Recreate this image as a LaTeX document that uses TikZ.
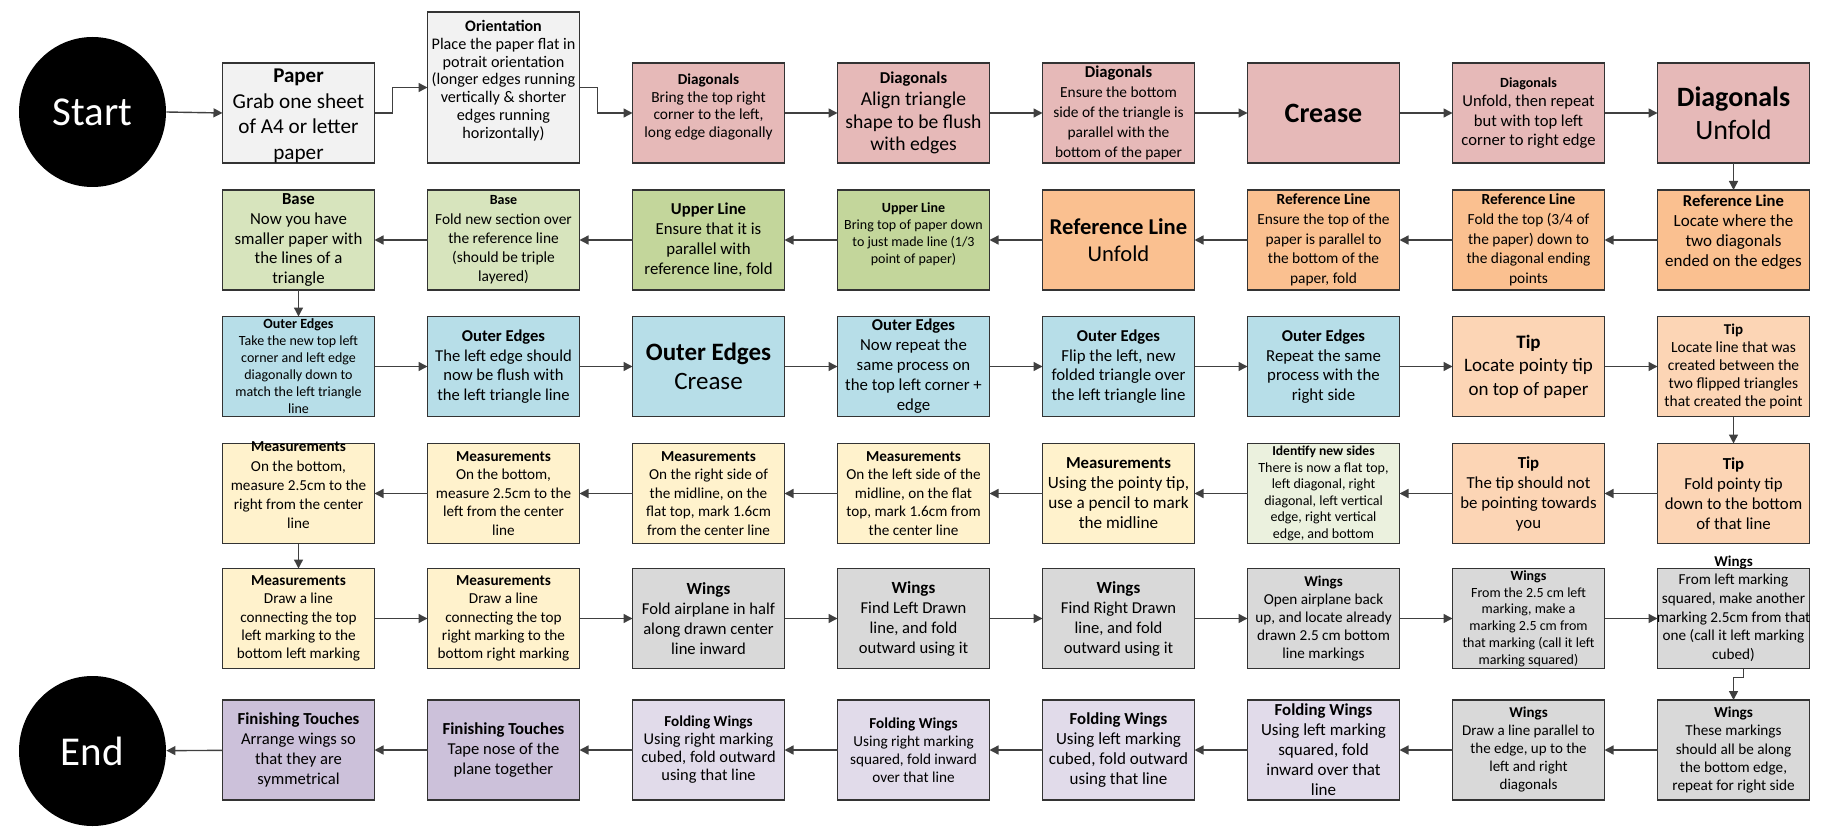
\documentclass[tikz,border=0pt]{standalone}
\usepackage{fontspec}
\setmainfont{Carlito}
\usetikzlibrary{shapes.geometric,arrows.meta,calc}
\definecolor{cpaper}{HTML}{F2F2F2}
\definecolor{cdiag}{HTML}{E6B9B8}
\definecolor{cref}{HTML}{FAC090}
\definecolor{cupper}{HTML}{C3D69B}
\definecolor{cbase}{HTML}{D7E4BD}
\definecolor{couter}{HTML}{B7DEE8}
\definecolor{ctip}{HTML}{FCD5B5}
\definecolor{cident}{HTML}{EBF1DE}
\definecolor{cmeas}{HTML}{FFF2CC}
\definecolor{cwing}{HTML}{D9D9D9}
\definecolor{cfold}{HTML}{E1DBEA}
\definecolor{cfin}{HTML}{CCC1DA}
% #1 raise, #2 title size, #3 body size, #4 baselineskip, #5 title, #6 body
\newcommand\B[6][0pt]{\makebox[0pt]{\raisebox{\dimexpr#1-2.5pt\relax}[0pt][0pt]{\parbox[c]{110pt}{\centering\fontsize{#2}{#4}\selectfont\textbf{#5}\endgraf\fontsize{#3}{#4}\selectfont #6\endgraf}}}}
\tikzset{
  bx/.style={rectangle, draw=black!80, line width=0.65pt, minimum width=76pt, minimum height=50pt, inner sep=0pt, outer sep=0pt, font=\fontsize{10}{12}\selectfont},
  arr/.style={draw=black!75, line width=0.7pt, -{Triangle[length=4.5pt,width=4.5pt]}},
  term/.style={ellipse, fill=black, text=white, minimum width=73.5pt, minimum height=75pt, inner sep=0pt, font=\fontsize{20.5}{24}\selectfont}
}
\begin{document}
\begin{tikzpicture}[x=0.5pt,y=-0.5pt]
\useasboundingbox (0,0) rectangle (1836,834);
% row 1
\node[term] (start) at (92.5,112) {Start};
\node[bx, fill=cpaper] (paper) at (298.5,113) {\B[-1.5pt]{10.5}{10.6}{12.9}{Paper}{Grab one sheet\\of A4 or letter\\paper}};
\node[bx, fill=cpaper, minimum height=75.5pt] (orient) at (503.5,87.5) {\B[3.5pt]{8}{8.1}{8.9}{Orientation}{Place the paper flat in\\potrait orientation\\(longer edges running\\vertically \& shorter\\edges running\\horizontally)}};
\node[bx, fill=cdiag] (d1) at (708.5,113) {\B[3pt]{7.6}{7.7}{8.8}{Diagonals}{Bring the top right\\corner to the left,\\long edge diagonally}};
\node[bx, fill=cdiag] (d2) at (913.5,113) {\B{8.3}{9.8}{11.2}{Diagonals}{Align triangle\\shape to be flush\\with edges}};
\node[bx, fill=cdiag] (d3) at (1118.5,113) {\B{8.3}{7.7}{10}{Diagonals}{Ensure the bottom\\side of the triangle is\\parallel with the\\bottom of the paper}};
\node[bx, fill=cdiag] (crease) at (1323.5,113) {\B{14}{14}{17}{Crease}{}};
\node[bx, fill=cdiag] (d5) at (1528.5,113) {\B{7}{8.3}{9.6}{Diagonals}{Unfold, then repeat\\but with top left\\corner to right edge}};
\node[bx, fill=cdiag] (d6) at (1733.5,113) {\B{14}{14}{16.4}{Diagonals}{Unfold}};
% row 2
\node[bx, fill=cref] (r1) at (1733.5,240) {\B[4pt]{8.3}{8.5}{10}{Reference Line}{Locate where the\\two diagonals\\ended on the edges}};
\node[bx, fill=cref] (r2) at (1528.5,240) {\B{7.7}{7.7}{9.8}{Reference Line}{Fold the top (3/4 of\\the paper) down to\\the diagonal ending\\points}};
\node[bx, fill=cref] (r3) at (1323.5,240) {\B{7.7}{7.7}{9.8}{Reference Line}{Ensure the top of the\\paper is parallel to\\the bottom of the\\paper, fold}};
\node[bx, fill=cref] (r4) at (1118.5,240) {\B{11.3}{11.3}{13.5}{Reference Line}{Unfold}};
\node[bx, fill=cupper] (u1) at (913.5,240) {\B[3pt]{7}{7}{8.5}{Upper Line}{Bring top of paper down\\to just made line (1/3\\point of paper)}};
\node[bx, fill=cupper] (u2) at (708.5,240) {\B{8.3}{8.4}{10}{Upper Line}{Ensure that it is\\parallel with\\reference line, fold}};
\node[bx, fill=cbase] (b1) at (503.5,240) {\B{7}{7.7}{9.6}{Base}{Fold new section over\\the reference line\\(should be triple\\layered)}};
\node[bx, fill=cbase] (b2) at (298.5,240) {\B{8.4}{8.4}{9.8}{Base}{Now you have\\smaller paper with\\the lines of a\\triangle}};
% row 3
\node[bx, fill=couter] (o1) at (298.5,366.5) {\B{7}{7}{8.5}{Outer Edges}{Take the new top left\\corner and left edge\\diagonally down to\\match the left triangle\\line}};
\node[bx, fill=couter] (o2) at (503.5,366.5) {\B{8.3}{8.3}{9.8}{Outer Edges}{The left edge should\\now be flush with\\the left triangle line}};
\node[bx, fill=couter] (o3) at (708.5,366.5) {\B{12.5}{12.5}{14.5}{Outer Edges}{Crease}};
\node[bx, fill=couter] (o4) at (913.5,366.5) {\B{8.3}{8.4}{10}{Outer Edges}{Now repeat the\\same process on\\the top left corner +\\edge}};
\node[bx, fill=couter] (o5) at (1118.5,366.5) {\B{8.3}{8.4}{9.8}{Outer Edges}{Flip the left, new\\folded triangle over\\the left triangle line}};
\node[bx, fill=couter] (o6) at (1323.5,366.5) {\B{8.3}{8.4}{9.8}{Outer Edges}{Repeat the same\\process with the\\right side}};
\node[bx, fill=ctip] (t1) at (1528.5,366.5) {\B{9.5}{9.5}{11.8}{Tip}{Locate pointy tip\\on top of paper}};
\node[bx, fill=ctip] (t2) at (1733.5,366.5) {\B{7.5}{7.75}{9}{Tip}{Locate line that was\\created between the\\two flipped triangles\\that created the point}};
% row 4
\node[bx, fill=ctip] (t3) at (1733.5,493.5) {\B{8.4}{8.4}{10}{Tip}{Fold pointy tip\\down to the bottom\\of that line}};
\node[bx, fill=ctip] (t4) at (1528.5,493.5) {\B{8.4}{8.4}{10}{Tip}{The tip should not\\be pointing towards\\you}};
\node[bx, fill=cident] (id) at (1323.5,493.5) {\B{6.8}{7}{8.3}{Identify new sides}{There is now a flat top,\\left diagonal, right\\diagonal, left vertical\\edge, right vertical\\edge, and bottom}};
\node[bx, fill=cmeas] (m1) at (1118.5,493.5) {\B{8.4}{8.6}{10}{Measurements}{Using the pointy tip,\\use a pencil to mark\\the midline}};
\node[bx, fill=cmeas] (m2) at (913.5,493.5) {\B{7.6}{7.6}{9.2}{Measurements}{On the left side of the\\midline, on the flat\\top, mark 1.6cm from\\the center line}};
\node[bx, fill=cmeas] (m3) at (708.5,493.5) {\B{7.6}{7.6}{9.2}{Measurements}{On the right side of\\the midline, on the\\flat top, mark 1.6cm\\from the center line}};
\node[bx, fill=cmeas] (m4) at (503.5,493.5) {\B{7.6}{7.6}{9.2}{Measurements}{On the bottom,\\measure 2.5cm to the\\left from the center\\line}};
\node[bx, fill=cmeas] (m5) at (298.5,493.5) {\B[4pt]{7.6}{7.6}{9.6}{Measurements}{On the bottom,\\measure 2.5cm to the\\right from the center\\line}};
% row 5
\node[bx, fill=cmeas] (m6) at (298.5,618.5) {\B{7.6}{7.6}{9.2}{Measurements}{Draw a line\\connecting the top\\left marking to the\\bottom left marking}};
\node[bx, fill=cmeas] (m7) at (503.5,618.5) {\B{7.6}{7.6}{9.2}{Measurements}{Draw a line\\connecting the top\\right marking to the\\bottom right marking}};
\node[bx, fill=cwing] (w1) at (708.5,618.5) {\B{8.5}{8.3}{10}{Wings}{Fold airplane in half\\along drawn center\\line inward}};
\node[bx, fill=cwing] (w2) at (913.5,618.5) {\B{8.5}{8.3}{10}{Wings}{Find Left Drawn\\line, and fold\\outward using it}};
\node[bx, fill=cwing] (w3) at (1118.5,618.5) {\B{8.5}{8.3}{10}{Wings}{Find Right Drawn\\line, and fold\\outward using it}};
\node[bx, fill=cwing] (w4) at (1323.5,618.5) {\B{7.5}{7.6}{9}{Wings}{Open airplane back\\up, and locate already\\drawn 2.5 cm bottom\\line markings}};
\node[bx, fill=cwing] (w5) at (1528.5,618.5) {\B{7}{7}{8.4}{Wings}{From the 2.5 cm left\\marking, make a\\marking 2.5 cm from\\that marking (call it left\\marking squared)}};
\node[bx, fill=cwing] (w6) at (1733.5,618.5) {\B[5pt]{7.5}{7.6}{9.3}{Wings}{From left marking\\squared, make another\\marking 2.5cm from that\\one (call it left marking\\cubed)}};
% row 6
\node[bx, fill=cwing] (w7) at (1733.5,750) {\B{7.6}{7.6}{9.2}{Wings}{These markings\\should all be along\\the bottom edge,\\repeat for right side}};
\node[bx, fill=cwing] (w8) at (1528.5,750) {\B{7.5}{7.5}{9}{Wings}{Draw a line parallel to\\the edge, up to the\\left and right\\diagonals}};
\node[bx, fill=cfold] (f1) at (1323.5,750) {\B{8.4}{8.5}{10}{Folding Wings}{Using left marking\\squared, fold\\inward over that\\line}};
\node[bx, fill=cfold] (f2) at (1118.5,750) {\B{8.4}{8.5}{10}{Folding Wings}{Using left marking\\cubed, fold outward\\using that line}};
\node[bx, fill=cfold] (f3) at (913.5,750) {\B{7.6}{7.6}{9}{Folding Wings}{Using right marking\\squared, fold inward\\over that line}};
\node[bx, fill=cfold] (f4) at (708.5,750) {\B{7.6}{8.2}{9}{Folding Wings}{Using right marking\\cubed, fold outward\\using that line}};
\node[bx, fill=cfin] (ft1) at (503.5,750) {\B{8.4}{8.3}{10}{Finishing Touches}{Tape nose of the\\plane together}};
\node[bx, fill=cfin] (ft2) at (298.5,750) {\B{8.4}{8.3}{10}{Finishing Touches}{Arrange wings so\\that they are\\symmetrical}};
\node[term] (end) at (92.5,751) {End};
% connectors
\draw[arr] (start.east) -- (paper.west);
\draw[arr] (paper.east) -- ++(18,0) |- (orient.west);
\draw[arr] (orient.east) -- ++(18,0) |- (d1.west);
\draw[arr] (d1) -- (d2);
\draw[arr] (d2) -- (d3);
\draw[arr] (d3) -- (crease);
\draw[arr] (crease) -- (d5);
\draw[arr] (d5) -- (d6);
\draw[arr] (d6) -- (r1);
\draw[arr] (r1) -- (r2);
\draw[arr] (r2) -- (r3);
\draw[arr] (r3) -- (r4);
\draw[arr] (r4) -- (u1);
\draw[arr] (u1) -- (u2);
\draw[arr] (u2) -- (b1);
\draw[arr] (b1) -- (b2);
\draw[arr] (b2) -- (o1);
\draw[arr] (o1) -- (o2);
\draw[arr] (o2) -- (o3);
\draw[arr] (o3) -- (o4);
\draw[arr] (o4) -- (o5);
\draw[arr] (o5) -- (o6);
\draw[arr] (o6) -- (t1);
\draw[arr] (t1) -- (t2);
\draw[arr] (t2) -- (t3);
\draw[arr] (t3) -- (t4);
\draw[arr] (t4) -- (id);
\draw[arr] (id) -- (m1);
\draw[arr] (m1) -- (m2);
\draw[arr] (m2) -- (m3);
\draw[arr] (m3) -- (m4);
\draw[arr] (m4) -- (m5);
\draw[arr] (m5) -- (m6);
\draw[arr] (m6) -- (m7);
\draw[arr] (m7) -- (w1);
\draw[arr] (w1) -- (w2);
\draw[arr] (w2) -- (w3);
\draw[arr] (w3) -- (w4);
\draw[arr] (w4) -- (w5);
\draw[arr] (w5) -- (w6);
\draw[arr] ([xshift=5pt]w6.south) -- ++(0,9) -| (w7.north);
\draw[arr] (w7) -- (w8);
\draw[arr] (w8) -- (f1);
\draw[arr] (f1) -- (f2);
\draw[arr] (f2) -- (f3);
\draw[arr] (f3) -- (f4);
\draw[arr] (f4) -- (ft1);
\draw[arr] (ft1) -- (ft2);
\draw[arr] (ft2) -- (end);
\end{tikzpicture}
\end{document}
